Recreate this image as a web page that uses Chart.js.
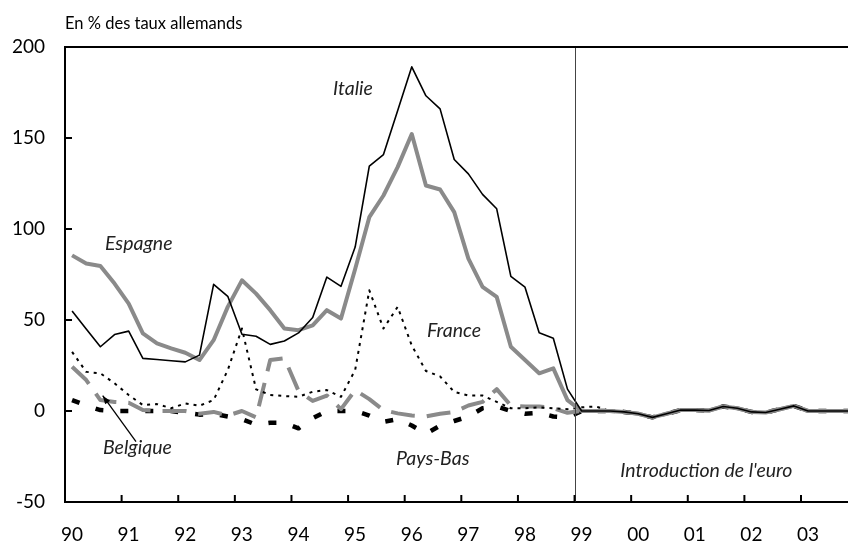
<!DOCTYPE html>
<html>
<head>
<meta charset="utf-8">
<script src="https://cdn.jsdelivr.net/npm/chart.js@4.4.0/dist/chart.umd.min.js"></script>
<style>
  html, body { margin: 0; padding: 0; background: #fff; }
  #wrap { width: 848px; height: 545px; position: relative; }
</style>
</head>
<body>
<div id="wrap"><canvas id="spreadChart" width="848" height="545"></canvas></div>
<script>
// quarterly spreads, 1990 Q1 .. 2003 Q4, in % of German rates
var firstYear = 1990;
var italie = [55, 45, 35.3, 42, 43.9, 28.9, 28.3, 27.6, 27, 30.7, 69.6, 63, 42.2, 41.1, 36.6, 38.5,
  42.9, 51.4, 73.6, 68.5, 90.1, 134.5, 140.9, 165, 189.1, 173.2, 166, 138.2, 130.3, 119, 111.1, 74,
  68, 43, 40, 12, 0, 0, 0, -0.5, -1.5, -3.5, -1.5, 0.5, 0.5, 0.3, 2.5, 1.5, -0.5, -0.8, 1, 2.8, 0, 0, 0, 0];
var espagne = [85.5, 81, 79.7, 70, 59, 42.6, 37.1, 34.4, 32, 28, 38.9, 57.2, 71.8, 64.5, 55.4, 45.3,
  44.4, 47.1, 55.4, 50.8, 78, 106.5, 118.4, 134, 152.2, 123.9, 121.7, 109.3, 83.7, 68.2, 62.7, 35.3,
  28, 20.7, 23.4, 6, 0, 0, 0, -0.5, -1.5, -3.5, -1.5, 0.5, 0.5, 0.3, 2.5, 1.5, -0.5, -0.8, 1, 2.8, 0, 0, 0, 0];
var france = [32.5, 21.5, 20.7, 15.2, 8.8, 3.3, 3.8, 1.5, 4.2, 2.9, 6, 22.5, 45.3, 11.9, 8.8, 8.2,
  7.8, 10.6, 11.5, 7.8, 22.5, 66.3, 45.3, 57.2, 36, 22, 19, 10.5, 8.5, 8.5, 5, 1.5,
  1.5, 2, 1.5, 1, 2, 2.5, 0, -0.5, -1.5, -3.5, -1.5, 0.5, 0.5, 0.3, 2.5, 1.5, -0.5, -0.8, 1, 2.8, 0, 0, 0, 0];
var belgique = [24.3, 17, 6, 5, 4.5, 0.5, 0, 0, 0, -1.5, -0.5, -2.5, 0, -3.5, 28, 29,
  11, 5.5, 8.5, 1, 11.5, 6.5, 0.5, -1.3, -2.5, -3, -1.5, -0.5, 3, 5, 12, 3,
  2.5, 2.5, 1.5, -1, 0, 0, 0, -0.5, -1.5, -3.5, -1.5, 0.5, 0.5, 0.3, 2.5, 1.5, -0.5, -0.8, 1, 2.8, 0, 0, 0, 0];
var paysBas = [6, 3, 0.5, 0, 0, 0, 0, 0, -1, -2, -1.5, -3, -4.5, -7.5, -6.5, -6.5,
  -9.5, -4, 0, 0, 0, -2.5, -6, -4.5, -8, -12.5, -8, -5.5, -3, 1.5, 2.5, 0,
  -1.5, -1, -3, -3.5, 0, 0, 0, -0.5, -1.5, -3.5, -1.5, 0.5, 0.5, 0.3, 2.5, 1.5, -0.5, -0.8, 1, 2.8, 0, 0, 0, 0];

var yTicks = [-50, 0, 50, 100, 150, 200];
var euroYear = 1999;

// text labels placed in data coordinates (left edge, vertical centre)
var notes = [
  { text: 'Italie', x: 1994.735, y: 177 },
  { text: 'Espagne', x: 1990.707, y: 92 },
  { text: 'France', x: 1996.396, y: 44 },
  { text: 'Belgique', x: 1990.671, y: -20.3 },
  { text: 'Pays-Bas', x: 1995.848, y: -26.3 },
  { text: "Introduction de l'euro", x: 1999.806, y: -32.9 }
];

function quarterPoints(values) {
  return values.map(function (v, i) {
    return { x: firstYear + (i + 0.5) / 4, y: v };
  });
}

var grey = '#8a8a8a';
var font = "Lato, 'Open Sans', sans-serif";

var decorations = {
  id: 'decorations',
  afterDatasetsDraw: function (chart) {
    var ctx = chart.ctx;
    var xs = chart.scales.x, ys = chart.scales.y;
    var area = chart.chartArea;
    ctx.save();
    // euro line
    var ex = Math.round(xs.getPixelForValue(euroYear)) + 0.5;
    ctx.strokeStyle = '#444';
    ctx.lineWidth = 1;
    ctx.beginPath();
    ctx.moveTo(ex, area.top);
    ctx.lineTo(ex, area.bottom);
    ctx.stroke();
    // top frame
    ctx.strokeStyle = '#000';
    ctx.lineWidth = 2;
    ctx.beginPath();
    ctx.moveTo(area.left, area.top);
    ctx.lineTo(area.right, area.top);
    ctx.stroke();
    // inward tick marks
    for (var yr = firstYear + 1; yr <= 2003; yr++) {
      var tx = xs.getPixelForValue(yr);
      ctx.beginPath();
      ctx.moveTo(tx, area.bottom);
      ctx.lineTo(tx, area.bottom - 7);
      ctx.stroke();
    }
    yTicks.forEach(function (t) {
      var ty = ys.getPixelForValue(t);
      ctx.beginPath();
      ctx.moveTo(area.left, ty);
      ctx.lineTo(area.left + 7, ty);
      ctx.stroke();
    });
    // series names
    ctx.fillStyle = '#222';
    ctx.font = 'italic 19.5px ' + font;
    ctx.textBaseline = 'middle';
    ctx.textAlign = 'left';
    notes.forEach(function (n) {
      ctx.fillText(n.text, xs.getPixelForValue(n.x), ys.getPixelForValue(n.y));
    });
    // arrow to Belgique
    var ax0 = xs.getPixelForValue(1991.254), ay0 = ys.getPixelForValue(-16.8);
    var ax1 = xs.getPixelForValue(1990.666), ay1 = ys.getPixelForValue(8.4);
    ctx.lineWidth = 1.3;
    ctx.beginPath();
    ctx.moveTo(ax0, ay0);
    ctx.lineTo(ax1, ay1);
    ctx.stroke();
    var ang = Math.atan2(ay1 - ay0, ax1 - ax0);
    ctx.fillStyle = '#000';
    ctx.beginPath();
    ctx.moveTo(ax1, ay1);
    ctx.lineTo(ax1 - 9 * Math.cos(ang - 0.35), ay1 - 9 * Math.sin(ang - 0.35));
    ctx.lineTo(ax1 - 9 * Math.cos(ang + 0.35), ay1 - 9 * Math.sin(ang + 0.35));
    ctx.closePath();
    ctx.fill();
    // unit caption
    ctx.fillStyle = '#000';
    ctx.font = '16.5px ' + font;
    ctx.fillText('En % des taux allemands', area.left, 24);
    ctx.restore();
  }
};

var ctx = document.getElementById('spreadChart').getContext('2d');
var chart = new Chart(ctx, {
  type: 'line',
  data: {
    datasets: [
      { label: 'Italie', data: quarterPoints(italie), borderColor: '#000', borderWidth: 1.6 },
      { label: 'Espagne', data: quarterPoints(espagne), borderColor: grey, borderWidth: 4 },
      { label: 'France', data: quarterPoints(france), borderColor: '#000', borderWidth: 2, borderDash: [3, 5] },
      { label: 'Belgique', data: quarterPoints(belgique), borderColor: grey, borderWidth: 4, borderDash: [24, 12] },
      { label: 'Pays-Bas', data: quarterPoints(paysBas), borderColor: '#000', borderWidth: 4.5, borderDash: [8, 17] }
    ]
  },
  options: {
    responsive: false,
    animation: false,
    devicePixelRatio: 1,
    layout: { padding: { top: 47, right: 0, left: 0, bottom: 0 } },
    elements: {
      point: { radius: 0 },
      line: { tension: 0, fill: false, borderJoinStyle: 'round' }
    },
    plugins: {
      legend: { display: false },
      tooltip: { enabled: false }
    },
    scales: {
      x: {
        type: 'linear',
        min: 1990,
        max: 2003.83,
        afterFit: function (s) { s.height = 43; },
        grid: { display: false, drawTicks: false },
        border: { display: true, color: '#000', width: 2 },
        ticks: {
          stepSize: 1,
          autoSkip: false,
          includeBounds: false,
          padding: 21,
          labelOffset: 7,
          maxRotation: 0,
          color: '#000',
          font: { family: font, size: 19 },
          callback: function (v) {
            return String(v % 100).padStart(2, '0');
          }
        }
      },
      y: {
        min: -50,
        max: 200,
        afterFit: function (s) { s.width = 65; },
        grid: { display: false, drawTicks: false },
        border: { display: true, color: '#000', width: 2 },
        ticks: {
          stepSize: 50,
          autoSkip: false,
          padding: 20,
          color: '#000',
          font: { family: font, size: 19 }
        }
      }
    }
  },
  plugins: [decorations]
});
</script>
</body>
</html>
